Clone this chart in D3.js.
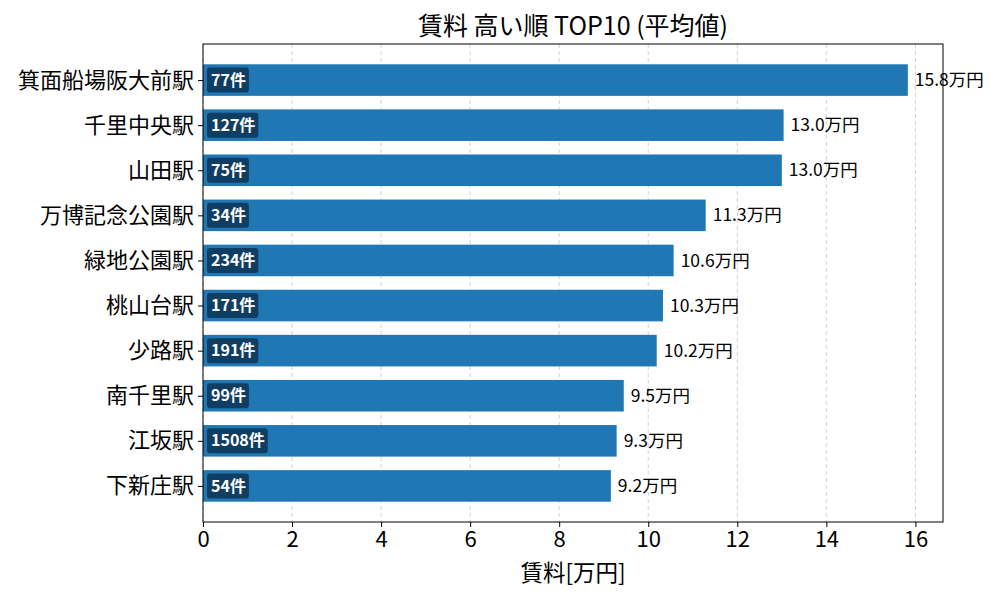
<!DOCTYPE html>
<html lang="ja">
<head>
<meta charset="utf-8">
<title>賃料 高い順 TOP10</title>
<script src="https://d3js.org/d3.v7.min.js"></script>
<style>
  body { margin: 0; background: #fff; }
  svg text { font-family: "Noto Sans CJK JP", "Noto Sans", sans-serif; }
</style>
</head>
<body>
<svg id="chart" width="1000" height="600"></svg>
<script>
// data
const stations = ["箕面船場阪大前駅", "千里中央駅", "山田駅", "万博記念公園駅", "緑地公園駅",
                  "桃山台駅", "少路駅", "南千里駅", "江坂駅", "下新庄駅"];
const rents = [15.83, 13.04, 13.0, 11.29, 10.57, 10.33, 10.19, 9.45, 9.29, 9.16];
const rentLabels = ["15.8", "13.0", "13.0", "11.3", "10.6", "10.3", "10.2", "9.5", "9.3", "9.2"];
const counts = [77, 127, 75, 34, 234, 171, 191, 99, 1508, 54];
const xTicks = [0, 2, 4, 6, 8, 10, 12, 14, 16];

const margin = {top: 44, right: 57, bottom: 78, left: 203};
const width = 1000 - margin.left - margin.right;
const height = 600 - margin.top - margin.bottom;

const svg = d3.select("#chart");
const g = svg.append("g").attr("transform", `translate(${margin.left},${margin.top})`);

const x = d3.scaleLinear().domain([0, 16.62]).range([0, width]);
// index scale with matplotlib-like padding around the bars
const y = d3.scaleLinear().domain([-0.8, stations.length - 0.2]).range([0, height]);
const barH = (y(1) - y(0)) * 0.7;

// grid
g.append("g")
  .selectAll("line")
  .data(xTicks)
  .join("line")
  .attr("x1", d => x(d)).attr("x2", d => x(d))
  .attr("y1", 0).attr("y2", height)
  .attr("stroke", "#b0b0b0")
  .attr("stroke-opacity", 0.7)
  .attr("stroke-dasharray", "4,3")
  .attr("stroke-width", 0.8);

// bars
g.selectAll(".bar")
  .data(rents)
  .join("rect")
  .attr("class", "bar")
  .attr("x", x(0))
  .attr("y", (d, i) => y(i) - barH / 2)
  .attr("width", d => x(d) - x(0))
  .attr("height", barH)
  .attr("fill", "#1f77b4");

// value labels
g.selectAll(".val")
  .data(rents)
  .join("text")
  .attr("class", "val")
  .attr("x", d => x(d) + 7)
  .attr("y", (d, i) => y(i))
  .attr("dy", "0.35em")
  .attr("font-size", 17.5)
  .attr("fill", "#000")
  .text((d, i) => rentLabels[i] + "万円");

// count badges
const badge = g.selectAll(".badge")
  .data(counts)
  .join("g")
  .attr("class", "badge")
  .attr("transform", (d, i) => `translate(${x(0) + 8},${y(i)})`);

badge.append("text")
  .attr("x", 0)
  .attr("dy", "0.35em")
  .attr("font-size", 16)
  .attr("font-weight", "bold")
  .attr("fill", "#fff")
  .text(d => d + "件");

badge.each(function () {
  const t = d3.select(this).select("text");
  const bb = t.node().getBBox();
  d3.select(this).insert("rect", "text")
    .attr("x", bb.x - 4)
    .attr("y", -12.5)
    .attr("width", bb.width + 7)
    .attr("height", 25)
    .attr("rx", 3)
    .attr("fill", "#0f3a5c")
    .attr("opacity", 0.92);
});

// axes
const xAxis = g.append("g")
  .attr("transform", `translate(0,${height})`)
  .call(d3.axisBottom(x).tickValues(xTicks).tickSize(5).tickPadding(4).tickSizeOuter(0));
xAxis.selectAll("text").attr("font-size", 22).attr("fill", "#000");
xAxis.select(".domain").remove();

const yAxis = g.append("g")
  .call(d3.axisLeft(y).tickValues(d3.range(stations.length))
    .tickFormat(i => stations[i]).tickSize(5).tickPadding(4).tickSizeOuter(0));
yAxis.selectAll("text").attr("font-size", 22).attr("fill", "#000");
yAxis.select(".domain").remove();

// frame
g.append("rect")
  .attr("width", width).attr("height", height)
  .attr("fill", "none").attr("stroke", "#000").attr("stroke-width", 1);

// title and label
svg.append("text")
  .attr("x", margin.left + width / 2)
  .attr("y", 35)
  .attr("text-anchor", "middle")
  .attr("font-size", 25)
  .text("賃料 高い順 TOP10 (平均値)");

svg.append("text")
  .attr("x", margin.left + width / 2)
  .attr("y", 581)
  .attr("text-anchor", "middle")
  .attr("font-size", 22.5)
  .text("賃料[万円]");
</script>
</body>
</html>
